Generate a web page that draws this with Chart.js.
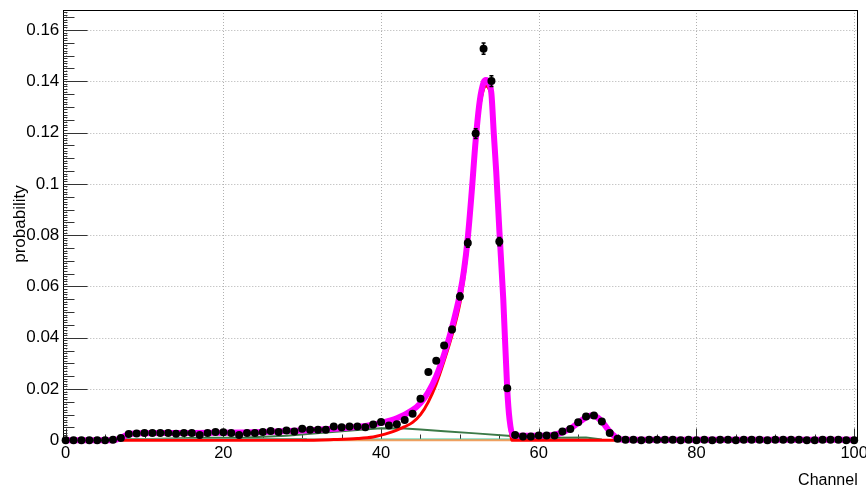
<!DOCTYPE html>
<html><head><meta charset="utf-8">
<script src="https://cdn.jsdelivr.net/npm/chart.js@4.4.0/dist/chart.umd.min.js"></script>
<style>html,body{margin:0;padding:0;background:#fff}#wrap{width:866px;height:487px}</style>
</head><body><div id="wrap"><canvas id="c" width="866" height="487"></canvas></div>
<script>
// ---- data ----
const channels = [0,1,2,3,4,5,6,7,8,9,10,11,12,13,14,15,16,17,18,19,20,21,22,23,24,25,26,27,28,29,30,31,32,33,34,35,36,37,38,39,40,41,42,43,44,45,46,47,48,49,50,51,52,53,54,55,56,57,58,59,60,61,62,63,64,65,66,67,68,69,70,71,72,73,74,75,76,77,78,79,80,81,82,83,84,85,86,87,88,89,90,91,92,93,94,95,96,97,98,99,100];
const probability = [
 0,0,0,0,0,0,0.0002,0.0009,0.0025,0.0027,
 0.0028,0.0028,0.0028,0.0028,0.0026,0.0028,0.0028,0.0021,0.0028,0.0032,
 0.0031,0.0028,0.0021,0.0028,0.0028,0.0032,0.0036,0.0032,0.0038,0.0034,
 0.0045,0.0041,0.0041,0.0041,0.0054,0.0051,0.0054,0.0054,0.0051,0.0062,
 0.0071,0.0058,0.0063,0.0079,0.0104,0.0162,0.0266,0.0310,0.0370,0.0432,
 0.0561,0.0769,0.1196,0.1527,0.1401,0.0775,0.0203,0.0021,0.0015,0.0015,
 0.0019,0.0019,0.0019,0.0034,0.0044,0.0070,0.0093,0.0097,0.0073,0.0028,
 0.0006,0.0002,0.0002,0,0.0002,0.0002,0.0002,0.0002,0,0.0002,
 0,0.0002,0,0.0002,0.0002,0,0.0002,0.0002,0.0002,0,
 0.0002,0.0002,0.0002,0.0002,0,0,0.0002,0.0002,0.0002,0,0
];
const errChannels = [49,50,51,52,53,54,55,56];
const errValues   = [0.0012,0.0013,0.0016,0.0019,0.0022,0.0021,0.0016,0.0008];

const fitX = [0,6,7,8,9,12,16,20,25,30,35,38,40,42,44,45,46,47,48,49,50,50.5,51,51.5,52,52.5,53,53.3,53.7,54,54.3,54.6,55,55.5,56,56.3,56.7,57,60,62,63,64,65,66,66.6,67.2,68,69,70,71,100];
const fitY = [0,0,0.0009,0.0024,0.0027,0.0028,0.0028,0.0029,0.0032,0.0038,0.0047,0.0056,0.0068,0.0086,0.0118,0.0145,0.0188,0.0250,0.0335,0.0440,0.0570,0.0660,0.0790,0.0970,0.1170,0.1320,0.1395,0.1405,0.1390,0.1350,0.1195,0.1050,0.0820,0.0550,0.0200,0.0080,0.0020,0.0018,0.0018,0.0022,0.0031,0.0046,0.0068,0.0089,0.0097,0.0094,0.0074,0.0034,0.0008,0.0002,0.0002];

const redX = [7.2,30,34,37,39,40,41,42,43,44,45,46,47,48,49,50,50.5,51,51.5,52,52.5,53,53.3,53.7,54,54.3,54.6,55,55.5,56,56.3,56.6,100];
const redY = [0,0,0.0003,0.0007,0.0013,0.0020,0.0029,0.0040,0.0053,0.0070,0.0100,0.0150,0.0220,0.0310,0.0410,0.0535,0.0630,0.0760,0.0940,0.1140,0.1295,0.1370,0.1382,0.1370,0.1332,0.1180,0.1035,0.0805,0.0535,0.0185,0.0065,0,0];

const greenX = [8,12,17,23,28,33,37,40,43,45,48,52,56.5,56.8,62,66,68];
const greenY = [0.0003,0.0006,0.0010,0.0011,0.0018,0.0030,0.0040,0.0047,0.0046,0.0042,0.0035,0.0027,0.0017,0.0008,0.0010,0.0011,0.0003];

const tealX = [7.5,30.5,30.6,57];
const tealY = [0.0005,0.0005,0.0003,0.0003];

const orangeX = [30,56.6];
const orangeY = [0,0];

const xTicks = [0,20,40,60,80,100];
const yTicks = [0,0.02,0.04,0.06,0.08,0.1,0.12,0.14,0.16];
const xTitle = 'Channel';
const yTitle = 'probability';

// ---- helpers ----
const xy = (xs, ys) => xs.map((x, i) => ({x: x, y: ys[i]}));
const FONT = 'Liberation Sans, Arial, Helvetica, sans-serif';
const zeroPad = s => { s.paddingTop = 0; s.paddingBottom = 0; s.paddingLeft = 0; s.paddingRight = 0; };

const rootAxes = {
  id: 'rootAxes',
  beforeDatasetsDraw(chart) {
    const {ctx, chartArea: a, scales: {x, y}} = chart;
    ctx.save();
    // dotted grid
    ctx.strokeStyle = '#b0b0b0';
    ctx.lineWidth = 1;
    ctx.setLineDash([1, 2]);
    for (const v of xTicks) {
      const px = Math.round(x.getPixelForValue(v)) + 0.5;
      ctx.beginPath(); ctx.moveTo(px, a.top); ctx.lineTo(px, a.bottom); ctx.stroke();
    }
    for (const v of yTicks) {
      if (v === 0) continue;
      const py = Math.round(y.getPixelForValue(v)) + 0.5;
      ctx.beginPath(); ctx.moveTo(a.left, py); ctx.lineTo(a.right, py); ctx.stroke();
    }
    ctx.setLineDash([]);
    // frame
    ctx.lineWidth = 1;
    ctx.strokeStyle = '#000';
    ctx.strokeRect(Math.round(a.left) + 0.5, Math.round(a.top) + 0.5,
                   Math.round(a.right - a.left), Math.round(a.bottom - a.top));
    // y ticks
    ctx.strokeStyle = '#333';
    const L = Math.round(a.left) + 0.5;
    for (let k = 1; k <= 167; k++) {
      const v = k / 1000;
      const py = Math.round(y.getPixelForValue(v)) + 0.5;
      let len = 4;
      if (k % 20 === 0) len = 24; else if (k % 5 === 0) len = 11;
      ctx.beginPath(); ctx.moveTo(L, py); ctx.lineTo(L + len, py); ctx.stroke();
    }
    // x ticks
    const B = Math.round(a.bottom) + 0.5;
    for (let k = 0; k <= 100; k += 5) {
      const px = Math.round(x.getPixelForValue(k)) + 0.5;
      const len = (k % 20 === 0) ? 12 : 6;
      ctx.beginPath(); ctx.moveTo(px, B); ctx.lineTo(px, B - len); ctx.stroke();
    }
    ctx.restore();
  },
  afterDatasetsDraw(chart) {
    const {ctx, chartArea: a, scales: {x, y}} = chart;
    ctx.save();
    // error bars
    ctx.strokeStyle = '#000';
    ctx.lineWidth = 1.5;
    errChannels.forEach((c, i) => {
      const v = probability[channels.indexOf(c)];
      const px = x.getPixelForValue(c);
      const y1 = y.getPixelForValue(v - errValues[i]);
      const y2 = y.getPixelForValue(v + errValues[i]);
      ctx.beginPath();
      ctx.moveTo(px, y1); ctx.lineTo(px, y2);
      ctx.moveTo(px - 2, y1); ctx.lineTo(px + 2, y1);
      ctx.moveTo(px - 2, y2); ctx.lineTo(px + 2, y2);
      ctx.stroke();
    });
    // axis titles
    ctx.fillStyle = '#000';
    ctx.font = '16px ' + FONT;
    ctx.textAlign = 'right';
    ctx.textBaseline = 'alphabetic';
    ctx.fillText(xTitle, a.right, 485);
    ctx.translate(25, 224);
    ctx.rotate(-Math.PI / 2);
    ctx.font = '17px ' + FONT;
    ctx.textAlign = 'center';
    ctx.fillText(yTitle, 0, 0);
    ctx.restore();
  }
};

new Chart(document.getElementById('c'), {
  type: 'scatter',
  data: {
    datasets: [
      {label: 'data', data: xy(channels, probability), showLine: false,
       pointRadius: 4, pointBackgroundColor: '#000', pointBorderWidth: 0, clip: false, order: 0},
      {label: 'total', data: xy(fitX, fitY), showLine: true, borderColor: '#ff00ff', borderWidth: 6,
       pointRadius: 0, cubicInterpolationMode: 'monotone', clip: 4, order: 1},
      {label: 'peak', data: xy(redX, redY), showLine: true, borderColor: '#ff0000', borderWidth: 3,
       pointRadius: 0, cubicInterpolationMode: 'monotone', clip: 3, order: 2},
      {label: 'orange', data: xy(orangeX, orangeY), showLine: true, borderColor: '#f0a060', borderWidth: 2,
       pointRadius: 0, clip: 3, order: 3},
      {label: 'teal', data: xy(tealX, tealY), showLine: true, borderColor: '#40c8a0', borderWidth: 2,
       pointRadius: 0, clip: 3, order: 4},
      {label: 'green', data: xy(greenX, greenY), showLine: true, borderColor: '#3b7a47', borderWidth: 2,
       pointRadius: 0, clip: 3, order: 5}
    ]
  },
  options: {
    responsive: false,
    animation: false,
    events: [],
    plugins: {legend: {display: false}, tooltip: {enabled: false}},
    layout: {autoPadding: false, padding: {left: 0, right: 8.3, top: 10, bottom: 0}},
    scales: {
      x: {
        type: 'linear', min: -0.3, max: 100.45,
        grid: {display: false, drawTicks: false}, border: {display: false},
        afterBuildTicks: s => { s.ticks = xTicks.map(v => ({value: v})); },
        afterFit: s => { s.height = 46.7; zeroPad(s); },
        ticks: {font: {family: FONT, size: 16.5}, color: '#000', padding: 3,
                maxRotation: 0, autoSkip: false, callback: v => String(v)}
      },
      y: {
        type: 'linear', min: 0, max: 0.1678,
        grid: {display: false, drawTicks: false}, border: {display: false},
        afterBuildTicks: s => { s.ticks = yTicks.map(v => ({value: v})); },
        afterFit: s => { s.width = 63.3; zeroPad(s); },
        ticks: {font: {family: FONT, size: 17}, color: '#000', padding: 4,
                autoSkip: false, callback: v => String(+Number(v).toFixed(2))}
      }
    }
  },
  plugins: [rootAxes]
});
</script>
</body></html>
